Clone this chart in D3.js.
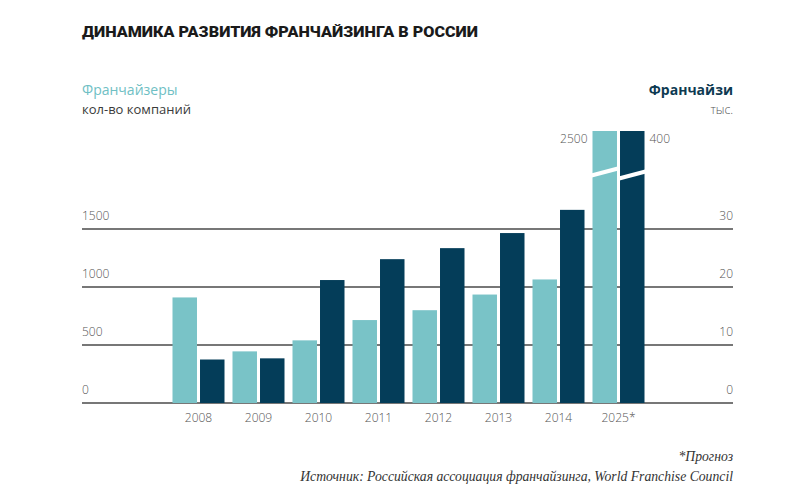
<!DOCTYPE html>
<html>
<head>
<meta charset="utf-8">
<script src="https://cdn.jsdelivr.net/npm/d3@7"></script>
<style>
  body { margin: 0; background: #fff; }
  svg { display: block; }
</style>
</head>
<body>
<div id="container"></div>
<script>
const years = ["2008", "2009", "2010", "2011", "2012", "2013", "2014", "2025*"];
const franchisors = [910, 445, 540, 715, 800, 935, 1065, 2500];   // кол-во компаний
const franchisees = [7.5, 7.7, 21.2, 24.8, 26.7, 29.3, 33.3, 400]; // тыс.
const leftTicks = [0, 500, 1000, 1500];
const rightTicks = [0, 10, 20, 30];

const w = 800;
const h = 500;
const left = 82;
const right = 733;
const plotTop = 131;
const lightColor = "#79c3c7";
const darkColor = "#043d59";
const tickColor = "#555";

const svg = d3
  .select("#container")
  .append("svg")
  .attr("width", w)
  .attr("height", h)
  .style("background-color", "#fff");

const yLeft = d3.scaleLinear().domain([0, 1500]).range([403, 229]);
const yRight = d3.scaleLinear().domain([0, 30]).range([403, 229]);

const x0 = d3.scaleBand().domain(years).range([168.5, 648.5]).padding(0);
const x1 = d3.scaleBand().domain(["a", "b"]).range([4, 56]).paddingInner(0.11);

// gridlines
svg
  .append("g")
  .selectAll("line")
  .data(leftTicks)
  .join("line")
  .attr("x1", left)
  .attr("x2", right)
  .attr("y1", d => yLeft(d))
  .attr("y2", d => yLeft(d))
  .attr("stroke", "#4a4a4a")
  .attr("stroke-width", 1.3);

// left tick labels
svg
  .append("g")
  .selectAll("text")
  .data(leftTicks)
  .join("text")
  .attr("x", left)
  .attr("y", d => yLeft(d) - 9)
  .attr("font-family", "Open Sans")
  .attr("font-weight", 300)
  .attr("font-size", 12)
  .attr("fill", tickColor)
  .text(d => d);

// right tick labels
svg
  .append("g")
  .selectAll("text")
  .data(rightTicks)
  .join("text")
  .attr("x", right)
  .attr("y", d => yRight(d) - 9)
  .attr("text-anchor", "end")
  .attr("font-family", "Open Sans")
  .attr("font-weight", 300)
  .attr("font-size", 12)
  .attr("fill", tickColor)
  .text(d => d);

const capped = (y) => Math.max(y, plotTop);

const groups = svg
  .append("g")
  .selectAll("g")
  .data(years)
  .join("g")
  .attr("transform", d => `translate(${x0(d)},0)`);

groups
  .append("rect")
  .attr("x", x1("a"))
  .attr("width", x1.bandwidth())
  .attr("y", (d, i) => capped(yLeft(franchisors[i])))
  .attr("height", (d, i) => yLeft(0) - capped(yLeft(franchisors[i])))
  .attr("fill", lightColor);

groups
  .append("rect")
  .attr("x", x1("b"))
  .attr("width", x1.bandwidth())
  .attr("y", (d, i) => capped(yRight(franchisees[i])))
  .attr("height", (d, i) => yRight(0) - capped(yRight(franchisees[i])))
  .attr("fill", darkColor);

// scale breaks on the forecast bars
const last = years[years.length - 1];
const gx = x0(last);
svg
  .append("line")
  .attr("x1", gx + x1("a") - 1)
  .attr("x2", gx + x1("a") + x1.bandwidth() + 1)
  .attr("y1", 175.5)
  .attr("y2", 168.5)
  .attr("stroke", "#fff")
  .attr("stroke-width", 4);
svg
  .append("line")
  .attr("x1", gx + x1("b") - 1)
  .attr("x2", gx + x1("b") + x1.bandwidth() + 1)
  .attr("y1", 178.5)
  .attr("y2", 171.5)
  .attr("stroke", "#fff")
  .attr("stroke-width", 4);

// values on the forecast bars
svg
  .append("text")
  .attr("x", gx + x1("a") - 5)
  .attr("y", 143)
  .attr("text-anchor", "end")
  .attr("font-family", "Open Sans")
  .attr("font-weight", 300)
  .attr("font-size", 12)
  .attr("fill", tickColor)
  .text(franchisors[franchisors.length - 1]);
svg
  .append("text")
  .attr("x", gx + x1("b") + x1.bandwidth() + 5)
  .attr("y", 143)
  .attr("font-family", "Open Sans")
  .attr("font-weight", 300)
  .attr("font-size", 12)
  .attr("fill", tickColor)
  .text(franchisees[franchisees.length - 1]);

// year labels
svg
  .append("g")
  .selectAll("text")
  .data(years)
  .join("text")
  .attr("x", d => x0(d) + x0.bandwidth() / 2)
  .attr("y", 422)
  .attr("text-anchor", "middle")
  .attr("font-family", "Open Sans")
  .attr("font-weight", 300)
  .attr("font-size", 12)
  .attr("fill", tickColor)
  .text(d => d);

// title
svg
  .append("text")
  .attr("x", left)
  .attr("y", 37)
  .attr("font-family", "Roboto")
  .attr("font-weight", 900)
  .attr("font-size", 15)
  .attr("textLength", 396)
  .attr("lengthAdjust", "spacingAndGlyphs")
  .attr("fill", "#1a1a1a")
  .text("ДИНАМИКА РАЗВИТИЯ ФРАНЧАЙЗИНГА В РОССИИ");

// series headers
svg
  .append("text")
  .attr("x", left)
  .attr("y", 95)
  .attr("font-family", "Open Sans")
  .attr("font-size", 14)
  .attr("fill", "#6fc0c4")
  .text("Франчайзеры");
svg
  .append("text")
  .attr("x", left)
  .attr("y", 114)
  .attr("font-family", "Open Sans")
  .attr("font-size", 13)
  .attr("fill", "#3a3a3a")
  .text("кол-во компаний");
svg
  .append("text")
  .attr("x", right)
  .attr("y", 95)
  .attr("text-anchor", "end")
  .attr("font-family", "Open Sans")
  .attr("font-weight", 700)
  .attr("font-size", 14)
  .attr("fill", "#0e3a52")
  .text("Франчайзи");
svg
  .append("text")
  .attr("x", right)
  .attr("y", 114)
  .attr("text-anchor", "end")
  .attr("font-family", "Open Sans")
  .attr("font-weight", 300)
  .attr("font-size", 12)
  .attr("fill", "#555")
  .text("тыс.");

// notes
svg
  .append("text")
  .attr("x", right)
  .attr("y", 461)
  .attr("text-anchor", "end")
  .attr("font-family", "Liberation Serif")
  .attr("font-style", "italic")
  .attr("font-size", 13.7)
  .attr("fill", "#333")
  .text("*Прогноз");
svg
  .append("text")
  .attr("x", right)
  .attr("y", 481)
  .attr("text-anchor", "end")
  .attr("font-family", "Liberation Serif")
  .attr("font-style", "italic")
  .attr("font-size", 13.7)
  .attr("fill", "#333")
  .text("Источник: Российская ассоциация франчайзинга, World Franchise Council");
</script>
</body>
</html>
